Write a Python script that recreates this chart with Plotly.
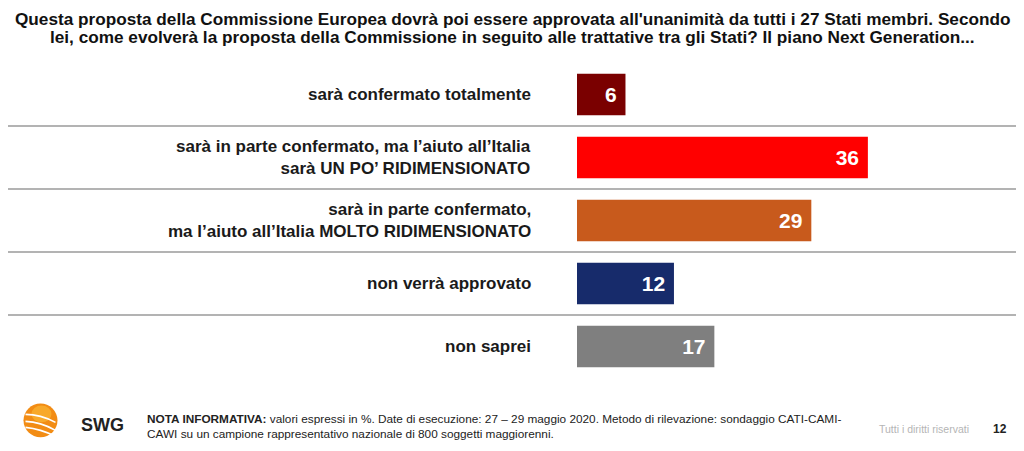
import plotly.graph_objects as go

categories = [
    "sarà confermato totalmente",
    "sarà in parte confermato, ma l’aiuto all’Italia<br>sarà UN PO’ RIDIMENSIONATO",
    "sarà in parte confermato,<br>ma l’aiuto all’Italia MOLTO RIDIMENSIONATO",
    "non verrà approvato",
    "non saprei",
]
values = [6, 36, 29, 12, 17]
colors = ["#7A0000", "#FF0000", "#C85A1C", "#172B6B", "#7F7F7F"]

title_lines = [
    "Questa proposta della Commissione Europea dovrà poi essere approvata all'unanimità da tutti i 27 Stati membri. Secondo",
    "lei, come evolverà la proposta della Commissione in seguito alle trattative tra gli Stati? Il piano Next Generation...",
]

OFF = 8  # page body margin
W, H = 1016, 443
x0_ref = 577
px_per_unit = 8.08
top_ref, bot_ref = 62.5, 378.5

ml = x0_ref - OFF
plot_w = W - ml
mt = top_ref - OFF
mb = H - (bot_ref - OFF)
plot_h = (bot_ref - top_ref)

def px(p):
    return (p - x0_ref) / plot_w

def py(p):
    return (bot_ref - p) / plot_h

FONT = "Arial, Liberation Sans, sans-serif"

fig = go.Figure()
fig.add_trace(go.Bar(
    x=values, y=list(range(len(values))), orientation="h",
    marker=dict(color=colors, line=dict(width=0)),
    width=0.66,
    text=[str(v) for v in values], textposition="inside", insidetextanchor="end",
    textfont=dict(family=FONT, size=21, color="white"),
    texttemplate="<b>%{text}</b> ",
    hoverinfo="skip",
))

shapes = []
for i in range(len(values) - 1):
    shapes.append(dict(type="line", xref="paper", yref="y",
                       x0=px(0), x1=px(1030), y0=i + 0.5, y1=i + 0.5,
                       line=dict(color="#9A9A9A", width=1.5)))

# logo: orange sphere with white stripes
cx, cy, r = 40.5, 421, 17
shapes.append(dict(type="circle", xref="paper", yref="paper",
                   x0=px(cx - r), x1=px(cx + r), y0=py(cy + r), y1=py(cy - r),
                   fillcolor="#F28C14", line=dict(width=0), layer="above"))
shapes.append(dict(type="circle", xref="paper", yref="paper",
                   x0=px(cx - 9), x1=px(cx + 11), y0=py(cy + 2), y1=py(cy - 15),
                   fillcolor="#F9B030", line=dict(width=0), layer="above", opacity=0.8))

def stripe(yl, yr, bend):
    xl, xr = cx - 15, cx + 15
    mx, my = cx, (yl + yr) / 2 - bend
    return dict(type="path", xref="paper", yref="paper",
                path=f"M {px(xl)},{py(yl)} Q {px(mx)},{py(my)} {px(xr)},{py(yr)}",
                line=dict(color="white", width=1.6), layer="above")

shapes.append(stripe(cy - 6, cy + 2, 4))
shapes.append(stripe(cy + 1, cy + 10, 4))
shapes.append(stripe(cy + 7, cy + 16, 3))

annotations = []
for i, c in enumerate(categories):
    annotations.append(dict(
        x=px(533), xref="paper", y=i, yref="y",
        xanchor="right", yanchor="middle", align="right", showarrow=False,
        text="<b>" + c + "</b>",
        font=dict(family=FONT, size=17, color="#1a1a1a"),
    ))

for yy, line in zip([18, 36.5], title_lines):
    annotations.append(dict(
        x=px(512), xref="paper", y=py(yy), yref="paper", xanchor="center", yanchor="middle",
        showarrow=False, text="<b>" + line + "</b>", borderpad=0,
        font=dict(family=FONT, size=17.2, color="#111"),
    ))

annotations.append(dict(
    x=px(79), xref="paper", y=py(426), yref="paper", xanchor="left", yanchor="middle",
    showarrow=False, text="<b>SWG</b>",
    font=dict(family=FONT, size=18, color="#222"),
))
note_lines = [
    "<b>NOTA INFORMATIVA:</b> valori espressi in %. Date di esecuzione: 27 – 29 maggio 2020. Metodo di rilevazione: sondaggio CATI-CAMI-",
    "CAWI su un campione rappresentativo nazionale di 800 soggetti maggiorenni.",
]
for yy, line in zip([420, 435], note_lines):
    annotations.append(dict(
        x=px(145), xref="paper", y=py(yy), yref="paper", xanchor="left", yanchor="middle",
        showarrow=False, text=line,
        font=dict(family=FONT, size=11.8, color="#222"),
    ))
annotations.append(dict(
    x=px(877), xref="paper", y=py(430), yref="paper", xanchor="left", yanchor="middle",
    showarrow=False, text="Tutti i diritti riservati",
    font=dict(family=FONT, size=10.5, color="#B5B5B5"),
))
annotations.append(dict(
    x=px(1000), xref="paper", y=py(430), yref="paper", xanchor="center", yanchor="middle",
    showarrow=False, text="<b>12</b>",
    font=dict(family=FONT, size=12, color="#222"),
))

fig.update_layout(
    width=W, height=H,
    margin=dict(l=ml, r=0, t=mt, b=mb, pad=0),
    paper_bgcolor="white", plot_bgcolor="white",
    showlegend=False,
    xaxis=dict(range=[0, plot_w / px_per_unit], visible=False, fixedrange=True),
    yaxis=dict(range=[len(values) - 0.5, -0.5], visible=False, fixedrange=True),
    shapes=shapes, annotations=annotations,
    uniformtext=dict(minsize=10, mode="show"),
)

fig.write_html("out.html")
